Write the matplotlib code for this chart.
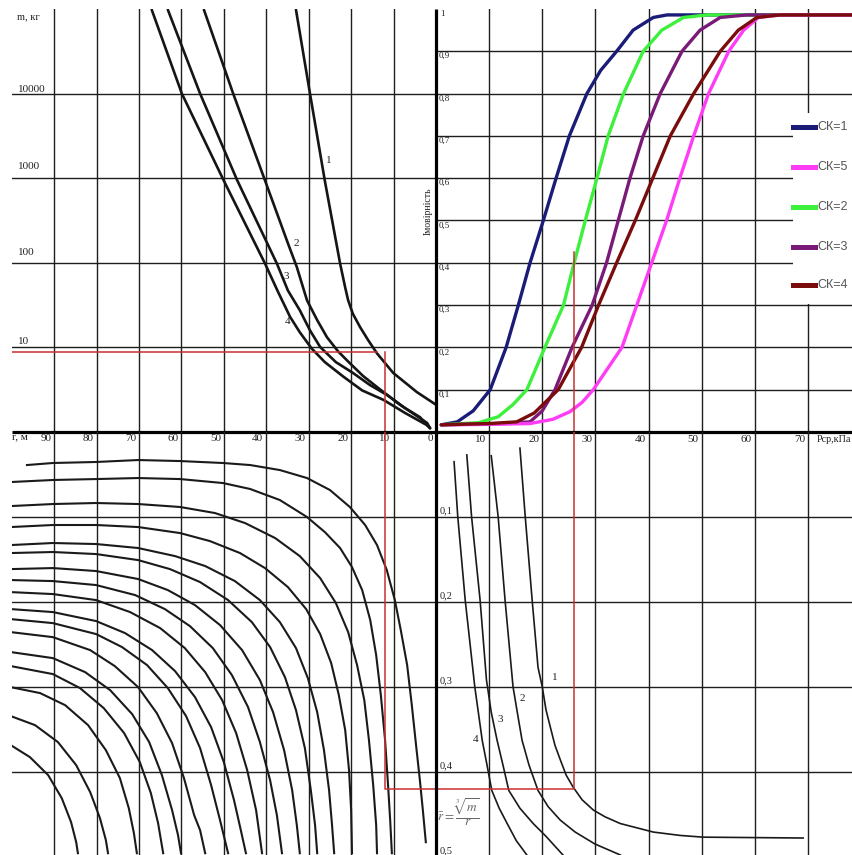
import matplotlib
matplotlib.use("Agg")
import matplotlib.pyplot as plt
from matplotlib.lines import Line2D
from matplotlib.patches import Rectangle

plt.rcParams["mathtext.fontset"] = "stix"
SERIF = ["Liberation Serif", "DejaVu Serif"]
SANS = ["Liberation Sans", "DejaVu Sans"]

# ---------------------------------------------------------------------------
# Upper left: charge mass m (kg, log) against distance r (m), curves 1..4
# ---------------------------------------------------------------------------
m1_r = [33.0, 29.7, 26.2, 22.6, 21.4, 20.7, 19.6, 17.9, 16.0, 13.9, 10.1, 4.5, 0.0]
m1_m = [9.8e4, 1.0e4, 933, 98, 51, 36, 25, 17.4, 12.2, 8.5, 5.0, 2.96, 2.1]
m2_r = [54.7, 47.8, 40.3, 34.9, 32.8, 30.4, 28.0, 25.7, 23.1, 20.3, 17.2, 13.9, 8.5, 5.2, 2.1, 1.4]
m2_m = [9.8e4, 1.0e4, 940, 170, 89, 36, 21, 13.2, 9.0, 6.5, 4.6, 3.4, 2.1, 1.63, 1.28, 1.11]
m3_r = [63.2, 55.6, 46.9, 37.5, 34.9, 32.1, 29.7, 27.3, 23.6, 19.6, 15.6, 11.5, 7.3, 3.8, 1.4]
m3_m = [9.8e4, 1.0e4, 955, 98, 47, 27.5, 15.9, 10.1, 6.7, 5.0, 3.6, 2.73, 1.92, 1.5, 1.11]
m4_r = [67.0, 59.9, 50.1, 40.3, 37.2, 34.4, 32.1, 29.3, 26.2, 21.8, 17.4, 12.4, 7.3, 2.2, 1.4]
m4_m = [9.8e4, 1.0e4, 955, 98, 45, 23, 15.1, 9.7, 6.7, 4.5, 3.1, 2.4, 1.68, 1.21, 1.11]

# ---------------------------------------------------------------------------
# Upper right: probability against mean pressure Pcp (kPa), one per CK class
# ---------------------------------------------------------------------------
ck1_p = [1.0, 4.0, 7.0, 10.2, 13.2, 15.5, 17.7, 20.2, 22.6, 25.1, 28.4, 31.0, 34.0, 37.1, 40.9, 43.5, 78.3]
ck1_v = [0.017, 0.024, 0.050, 0.100, 0.200, 0.300, 0.400, 0.500, 0.600, 0.700, 0.800, 0.855, 0.900, 0.950, 0.980, 0.986, 0.986]
ck2_p = [1.0, 8.0, 11.7, 14.5, 17.1, 20.5, 24.0, 26.0, 28.1, 30.3, 32.4, 35.3, 39.0, 42.5, 46.6, 51.0, 78.3]
ck2_v = [0.017, 0.022, 0.036, 0.065, 0.100, 0.200, 0.300, 0.400, 0.500, 0.600, 0.700, 0.800, 0.900, 0.950, 0.980, 0.986, 0.986]
ck3_p = [1.0, 12.0, 17.7, 20.0, 22.4, 25.6, 29.4, 32.1, 34.3, 36.5, 39.0, 42.2, 46.3, 49.7, 53.5, 58.5, 78.3]
ck3_v = [0.017, 0.020, 0.024, 0.050, 0.100, 0.200, 0.300, 0.400, 0.500, 0.600, 0.700, 0.800, 0.900, 0.950, 0.980, 0.986, 0.986]
ck4_p = [1.0, 10.0, 15.2, 18.5, 23.0, 27.4, 30.6, 34.0, 37.5, 40.8, 44.1, 48.5, 53.5, 56.9, 60.4, 64.8, 78.3]
ck4_v = [0.017, 0.020, 0.024, 0.045, 0.100, 0.200, 0.300, 0.400, 0.500, 0.600, 0.700, 0.800, 0.900, 0.950, 0.980, 0.986, 0.986]
ck5_p = [1.0, 10.0, 17.7, 22.0, 25.2, 27.5, 29.6, 35.0, 37.8, 40.6, 43.4, 45.9, 48.5, 51.3, 55.1, 57.9, 60.7, 64.8, 78.3]
ck5_v = [0.017, 0.018, 0.020, 0.030, 0.048, 0.070, 0.100, 0.200, 0.300, 0.400, 0.500, 0.600, 0.700, 0.800, 0.900, 0.950, 0.980, 0.986, 0.986]

ck_labels = ["СК=1", "СК=5", "СК=2", "СК=3", "СК=4"]
ck_colors = ["#1b1b78", "#ff3cf5", "#3cf03c", "#7a1a78", "#7a0c0c"]

# ---------------------------------------------------------------------------
# Lower right: scaled distance r_bar against Pcp, curves 1..4
# ---------------------------------------------------------------------------
lr1_p = [15.8, 16.8, 18.1, 19.2, 20.0, 20.7, 21.5, 22.4, 23.4, 24.5, 25.8, 27.5, 29.6, 31.8, 34.7, 40.9, 46.0, 50.3, 69.1]
lr1_r = [0.019, 0.100, 0.198, 0.277, 0.300, 0.327, 0.347, 0.369, 0.386, 0.404, 0.418, 0.433, 0.445, 0.453, 0.461, 0.471, 0.475, 0.477, 0.478]
lr2_p = [10.4, 11.7, 13.0, 14.5, 15.3, 16.2, 17.5, 19.2, 21.1, 23.4, 26.2, 29.9, 34.7]
lr2_r = [0.028, 0.100, 0.198, 0.300, 0.330, 0.363, 0.392, 0.422, 0.441, 0.457, 0.471, 0.485, 0.498]
lr3_p = [5.8, 6.7, 8.3, 9.5, 10.4, 11.5, 12.6, 13.7, 15.8, 18.3, 20.7, 23.9]
lr3_r = [0.027, 0.100, 0.198, 0.292, 0.330, 0.363, 0.392, 0.422, 0.443, 0.461, 0.476, 0.498]
lr4_p = [3.4, 4.1, 5.5, 7.3, 8.7, 9.6, 10.5, 11.9, 13.4, 15.1, 17.1]
lr4_r = [0.035, 0.100, 0.198, 0.300, 0.363, 0.392, 0.422, 0.443, 0.461, 0.481, 0.498]

# ---------------------------------------------------------------------------
# Lower left: r_bar against r, family of curves (top to bottom)
# ---------------------------------------------------------------------------
ll_a_r = [96.4, 90.3, 80.1, 70.2, 60.3, 50.2, 43.8, 36.8, 30.4, 25.0, 20.3, 16.7, 13.9, 11.6, 9.7, 8.3, 6.8, 5.7, 4.7, 3.8, 3.1, 2.4]
ll_a_b = [0.0389, 0.0365, 0.0353, 0.0330, 0.0342, 0.0365, 0.0389, 0.0448, 0.0542, 0.0683, 0.0883, 0.1095, 0.1331, 0.1625, 0.1979, 0.2332, 0.2744, 0.3216, 0.3687, 0.4099, 0.4452, 0.4829]
ll_b_r = [100.2, 90.3, 80.1, 70.2, 60.3, 50.2, 43.8, 36.8, 30.4, 26.2, 22.6, 19.8, 17.4, 15.5, 14.1, 13.0, 12.0, 11.3, 10.8, 10.4]
ll_b_b = [0.0589, 0.0565, 0.0554, 0.0542, 0.0554, 0.0601, 0.0671, 0.0801, 0.1001, 0.1178, 0.1366, 0.1590, 0.1861, 0.2214, 0.2627, 0.3098, 0.3628, 0.4158, 0.4570, 0.4959]
ll_c_r = [100.2, 90.3, 80.1, 70.2, 60.3, 52.1, 45.0, 37.9, 32.1, 27.3, 23.6, 20.7, 18.6, 16.9, 15.8, 14.8, 14.1, 13.9]
ll_c_b = [0.0872, 0.0848, 0.0836, 0.0848, 0.0883, 0.0954, 0.1072, 0.1249, 0.1461, 0.1720, 0.2014, 0.2356, 0.2744, 0.3157, 0.3628, 0.4158, 0.4629, 0.4959]
ll_d_r = [100.2, 90.3, 80.1, 70.2, 60.3, 53.3, 46.2, 40.3, 34.9, 30.6, 27.3, 24.7, 22.9, 21.4, 20.5, 20.0, 19.8]
ll_d_b = [0.1119, 0.1095, 0.1095, 0.1119, 0.1190, 0.1284, 0.1425, 0.1602, 0.1826, 0.2085, 0.2379, 0.2721, 0.3098, 0.3510, 0.3981, 0.4452, 0.4959]
ll_e_r = [100.2, 90.3, 80.1, 70.2, 61.5, 54.4, 47.4, 41.5, 36.8, 33.0, 30.2, 28.0, 26.4, 25.2, 24.5, 24.0]
ll_e_b = [0.1331, 0.1307, 0.1319, 0.1366, 0.1461, 0.1578, 0.1755, 0.1979, 0.2238, 0.2544, 0.2898, 0.3298, 0.3746, 0.4217, 0.4629, 0.4959]
ll_f_r = [100.2, 90.3, 80.1, 70.2, 62.7, 55.6, 49.0, 43.4, 39.1, 35.6, 33.0, 30.9, 29.5, 28.5, 28.0]
ll_f_b = [0.1425, 0.1413, 0.1437, 0.1508, 0.1614, 0.1767, 0.1979, 0.2238, 0.2532, 0.2886, 0.3274, 0.3722, 0.4217, 0.4629, 0.4959]
ll_g_r = [100.2, 90.3, 80.1, 70.2, 63.2, 56.8, 50.9, 45.7, 41.5, 38.4, 35.8, 33.9, 32.8, 32.1]
ll_g_b = [0.1614, 0.1602, 0.1637, 0.1731, 0.1861, 0.2038, 0.2273, 0.2568, 0.2921, 0.3298, 0.3746, 0.4217, 0.4629, 0.4959]
ll_h_r = [100.2, 90.3, 80.1, 70.9, 63.9, 58.0, 52.6, 48.1, 44.3, 41.5, 39.1, 37.5, 36.3]
ll_h_b = [0.1743, 0.1755, 0.1802, 0.1920, 0.2085, 0.2285, 0.2544, 0.2862, 0.3239, 0.3651, 0.4099, 0.4511, 0.4959]
ll_i_r = [100.2, 90.3, 80.1, 72.1, 65.0, 59.2, 54.4, 50.4, 47.1, 44.5, 42.4, 41.0]
ll_i_b = [0.1885, 0.1908, 0.1979, 0.2120, 0.2309, 0.2544, 0.2827, 0.3157, 0.3545, 0.3981, 0.4452, 0.4959]
ll_j_r = [100.2, 90.3, 80.1, 73.3, 66.9, 61.5, 56.8, 53.0, 50.0, 47.6, 46.0, 44.8]
ll_j_b = [0.2085, 0.2120, 0.2226, 0.2367, 0.2568, 0.2815, 0.3121, 0.3475, 0.3887, 0.4335, 0.4688, 0.4959]
ll_k_r = [100.2, 90.3, 80.1, 74.0, 68.1, 63.2, 58.9, 55.6, 53.0, 50.9, 49.0]
ll_k_b = [0.2203, 0.2250, 0.2379, 0.2532, 0.2744, 0.3015, 0.3345, 0.3722, 0.4158, 0.4570, 0.4959]
ll_l_r = [100.2, 90.3, 81.5, 75.7, 70.2, 65.8, 62.2, 59.4, 57.0, 55.6, 54.4]
ll_l_b = [0.2356, 0.2415, 0.2568, 0.2756, 0.3004, 0.3310, 0.3663, 0.4075, 0.4511, 0.4688, 0.4959]
ll_m_r = [100.2, 90.3, 82.7, 76.8, 71.6, 67.6, 64.6, 62.2, 60.8, 60.1]
ll_m_b = [0.2591, 0.2662, 0.2827, 0.3039, 0.3322, 0.3651, 0.4040, 0.4452, 0.4747, 0.4959]
ll_n_r = [100.2, 90.3, 83.9, 78.3, 73.5, 69.8, 67.2, 65.5, 64.3]
ll_n_b = [0.2756, 0.2850, 0.3015, 0.3251, 0.3545, 0.3887, 0.4252, 0.4605, 0.4959]
ll_o_r = [100.2, 93.3, 87.4, 82.0, 77.8, 74.5, 72.4, 71.2, 70.5]
ll_o_b = [0.3004, 0.3074, 0.3216, 0.3451, 0.3746, 0.4075, 0.4429, 0.4723, 0.4959]
ll_p_r = [100.2, 94.5, 89.1, 84.8, 81.5, 79.2, 77.8, 77.3]
ll_p_b = [0.3345, 0.3451, 0.3651, 0.3922, 0.4240, 0.4546, 0.4806, 0.4959]
ll_q_r = [100.2, 95.7, 91.4, 88.2, 86.0, 84.8, 84.4]
ll_q_b = [0.3687, 0.3828, 0.4040, 0.4311, 0.4594, 0.4829, 0.4959]

ll_curves = [(ll_a_r, ll_a_b), (ll_b_r, ll_b_b), (ll_c_r, ll_c_b), (ll_d_r, ll_d_b),
             (ll_e_r, ll_e_b), (ll_f_r, ll_f_b), (ll_g_r, ll_g_b), (ll_h_r, ll_h_b),
             (ll_i_r, ll_i_b), (ll_j_r, ll_j_b), (ll_k_r, ll_k_b), (ll_l_r, ll_l_b),
             (ll_m_r, ll_m_b), (ll_n_r, ll_n_b), (ll_o_r, ll_o_b), (ll_p_r, ll_p_b),
             (ll_q_r, ll_q_b)]

# worked example path through the four quadrants
ex_m, ex_r, ex_r_hit, ex_rbar, ex_p, ex_prob = 8.8, 12.0, 13.9, 0.4205, 26.0, 0.425

# grid / tick values
r_ticks = [90, 80, 70, 60, 50, 40, 30, 20, 10]
p_ticks = [10, 20, 30, 40, 50, 60, 70]
m_ticks = [10, 100, 1000, 10000]
prob_ticks = [0.1, 0.2, 0.3, 0.4, 0.5, 0.6, 0.7, 0.8, 0.9]
rbar_ticks = [0.1, 0.2, 0.3, 0.4, 0.5]

# ---------------------------------------------------------------------------
W, H = 852, 855
CX, CY = 436, 432
LEFT, TOP = 11.7, 9

fig = plt.figure(figsize=(W / 100, H / 100), dpi=100)
fig.patch.set_facecolor("white")


def panel(x0, y0, x1, y1):
    ax = fig.add_axes([x0 / W, 1 - y1 / H, (x1 - x0) / W, (y1 - y0) / H])
    ax.set_axis_off()
    ax.patch.set_alpha(0)
    return ax


ul = panel(LEFT, TOP, CX, CY)
ur = panel(CX, TOP, W, CY)
ll = panel(LEFT, CY, CX, H)
lr = panel(CX, CY, W, H)

ul.set_yscale("log")
ul.set_xlim(100, 0); ul.set_ylim(1, 1e5)
ur.set_xlim(0, 78.3); ur.set_ylim(0, 1.0)
ll.set_xlim(100, 0); ll.set_ylim(0.498, 0)
lr.set_xlim(0, 78.3); lr.set_ylim(0.498, 0)

GRID = dict(color="#1e1e1e", lw=1.0, zorder=1)
for ax in (ul, ll):
    for v in r_ticks:
        ax.axvline(v, **GRID)
for ax in (ur, lr):
    for v in p_ticks:
        ax.axvline(v, **GRID)
for v in m_ticks:
    ul.axhline(v, **GRID)
for v in prob_ticks:
    ur.axhline(v, **GRID)
for v in rbar_ticks[:-1]:
    ll.axhline(v, **GRID)
    lr.axhline(v, **GRID)

# main cross axes
AXIS = dict(color="black", lw=2.3, zorder=6, clip_on=False, solid_capstyle="butt")
ul.axhline(1, **AXIS)
ur.axhline(0, **AXIS)
ur.axvline(0, **AXIS)
lr.axvline(0, **AXIS)

# curves
for xs, ys in [(m1_r, m1_m), (m2_r, m2_m), (m3_r, m3_m), (m4_r, m4_m)]:
    ul.plot(xs, ys, color="#151515", lw=1.9, zorder=4, solid_capstyle="round",
            solid_joinstyle="round")

ck_series = [(ck1_p, ck1_v), (ck5_p, ck5_v), (ck2_p, ck2_v), (ck3_p, ck3_v), (ck4_p, ck4_v)]
for i in [0, 2, 3, 1, 4]:
    xs, ys = ck_series[i]
    ur.plot(xs, ys, color=ck_colors[i], lw=2.4, zorder=4, solid_capstyle="round",
            solid_joinstyle="round")

for xs, ys in [(lr1_p, lr1_r), (lr2_p, lr2_r), (lr3_p, lr3_r), (lr4_p, lr4_r)]:
    lr.plot(xs, ys, color="#1a1a1a", lw=1.2, zorder=4, solid_joinstyle="round")

for xs, ys in ll_curves:
    ll.plot(xs, ys, color="#1a1a1a", lw=1.5, zorder=4, solid_joinstyle="round")

# red example path
RED = dict(color="#c8322f", lw=1.1, zorder=5)
ul.plot([100, ex_r_hit], [ex_m, ex_m], **RED)
ul.plot([ex_r, ex_r], [ex_m, 1], **RED)
ll.plot([ex_r, ex_r, 0], [0, ex_rbar, ex_rbar], **RED)
lr.plot([0, ex_p, ex_p], [ex_rbar, ex_rbar, 0], **RED)
ur.plot([ex_p, ex_p], [0, ex_prob], **RED)


def label(ax, x, y, s, dx=0, dy=0, size=8, **kw):
    kw.setdefault("family", SERIF)
    kw.setdefault("color", "#222222")
    ax.annotate(s, (x, y), xytext=(dx, dy), textcoords="offset pixels",
                fontsize=size, annotation_clip=False, zorder=7, **kw)


# tick labels, upper left (mass)
for v, dy in zip([10000, 1000, 100, 10], [4.3, 11.3, 10.6, 5.8]):
    label(ul, 100, v, str(v), dx=6.3, dy=dy, ha="left", va="center")
label(ul, 100, 1e5, "m, кг", dx=5.5, dy=-8, ha="left", va="center", size=7.5)

# distance labels along the horizontal axis
for v in r_ticks + [0]:
    label(ul, v, 1, str(v), dx=-3, dy=-6, ha="right", va="center")
label(ul, 100, 1, "r, м", dx=0, dy=-5, ha="left", va="center")

# pressure labels
for v in p_ticks:
    label(ur, v, 0, str(v), dx=-3, dy=-7, ha="right", va="center")
label(ur, 71.6, 0, "Рср,кПа", dy=-7, ha="left", va="center", size=7.3)

# probability labels
for v in prob_ticks:
    label(ur, 0, v, f"{v:.1f}".replace(".", ","), dx=2.5, dy=-1, ha="left", va="top", size=6.5)
label(ur, 0, 1.0, "1", dx=4, dy=-1, ha="left", va="top", size=6.5)
label(ul, 1.9, 405, "Імовірність", ha="center", va="center", rotation=90, size=7)

# scaled distance labels
for v in rbar_ticks:
    label(lr, 0, v, f"{v:.1f}".replace(".", ","), dx=3.5, dy=1.5, ha="left", va="bottom", size=7.5)
label(lr, 4.1, 0.447, r"$\bar{r}=\dfrac{\sqrt[3]{m}}{r}$", ha="center", va="center",
      size=9.5, color="#666666")

# curve numbers
for s, x, y in [("1", 25.2, 1620), ("2", 33.0, 170), ("3", 35.35, 69), ("4", 35.1, 20)]:
    label(ul, x, y, s, ha="center", va="center")
for s, x, y in [("1", 22.4, 0.289), ("2", 16.3, 0.314), ("3", 12.05, 0.338), ("4", 7.5, 0.362)]:
    label(lr, x, y, s, ha="center", va="center")

# legend box on the right edge
ur.add_patch(Rectangle((0.857, 0.303), 0.2, 0.451, transform=ur.transAxes,
                       facecolor="white", edgecolor="none", zorder=8, clip_on=False))
for k, yk in enumerate([0.721, 0.626, 0.532, 0.437, 0.348]):
    ur.add_line(Line2D([0.859, 0.912], [yk, yk], transform=ur.transAxes,
                       color=ck_colors[k], lw=3.6, zorder=9, clip_on=False))
    ur.text(0.916, yk, ck_labels[k], transform=ur.transAxes, ha="left", va="center",
            fontsize=9, family=SANS, color="#555555", zorder=9, clip_on=False)

fig.savefig("out.png", dpi=100)
